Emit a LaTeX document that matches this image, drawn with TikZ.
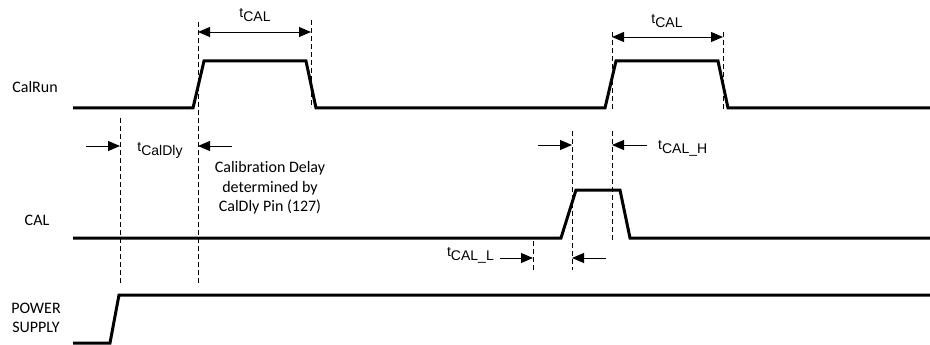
\documentclass[tikz,border=0pt]{standalone}
\usepackage{fontspec}
\setmainfont{Carlito}[Ligatures={NoCommon}]
\newfontfamily\arialfont{Liberation Sans}
\usetikzlibrary{arrows.meta}
\newcommand\tlab[1]{t\raisebox{-4pt}{#1}}

\begin{document}
\begin{tikzpicture}[x=1pt,y=-1pt,
  sig/.style={line width=3pt,line join=miter},
  guide/.style={line width=0.8pt,dash pattern=on 5pt off 3pt},
  dim/.style={-{Triangle[length=12pt,width=10pt]},line width=0.9pt},
  span/.style={{Triangle[length=12pt,width=10pt]}-{Triangle[length=12pt,width=10pt]},line width=0.9pt},
  lbl/.style={font=\fontsize{16}{19.5}\selectfont,align=center,inner sep=0pt},
  tm/.style={font=\arialfont\fontsize{14}{16}\selectfont,inner sep=0pt}]
\useasboundingbox (0,0) rectangle (930,345);
% signal names
\node[lbl] (nRun) at (35,87) {CalRun};
\node[lbl] (nCal) at (37,220) {CAL};
\node[lbl] (nPwr) at (36,318) {POWER\\SUPPLY};
% waveforms
\draw[sig] (73,108) -- (193,108) -- (204,61) -- (306,61) -- (316,108) -- (605,108)
  -- (616,61) -- (718,61) -- (728,108) -- (930,108);
\draw[sig] (73,238) -- (561,238) -- (576,190) -- (620,190) -- (630,238) -- (930,238);
\draw[sig] (73,343) -- (110,343) -- (119,295) -- (930,295);
% guide lines
\coordinate (G1a) at (120,118); \coordinate (G1b) at (120,283);
\coordinate (G2a) at (198,22);  \coordinate (G2b) at (198,283);
\coordinate (G3a) at (311,20);  \coordinate (G3b) at (311,108);
\coordinate (G4a) at (612,32);  \coordinate (G4b) at (612,110);
\coordinate (G5a) at (723,32);  \coordinate (G5b) at (723,110);
\coordinate (G6a) at (572,131); \coordinate (G6b) at (572,270);
\coordinate (G7a) at (612,131); \coordinate (G7b) at (612,241);
\coordinate (G8a) at (533,241); \coordinate (G8b) at (533,270);
\foreach \g in {1,...,8}
  \draw[guide] (G\g a) -- (G\g b);
% tCAL spans
\coordinate (P1) at (198,32); \coordinate (P2) at (311,32);
\coordinate (P3) at (612,37); \coordinate (P4) at (723,37);
\draw[span] (P1) -- (P2);
\draw[span] (P3) -- (P4);
\node[tm] (T1) at (255,15) {\tlab{CAL}};
\node[tm] (T2) at (667,21) {\tlab{CAL}};
% tCalDly
\coordinate (Q1) at (86,146);  \coordinate (Q2) at (120,146);
\coordinate (Q3) at (232,146); \coordinate (Q4) at (198,146);
\draw[dim] (Q1) -- (Q2);
\draw[dim] (Q3) -- (Q4);
\node[tm] (T3) at (160,150) {\tlab{CalDly}};
\node[lbl] (N1) at (270,188) {Calibration Delay\\determined by\\CalDly Pin (127)};
% tCAL_H
\coordinate (H1) at (538,145); \coordinate (H2) at (572,145);
\coordinate (H3) at (647,145); \coordinate (H4) at (612,145);
\draw[dim] (H1) -- (H2);
\draw[dim] (H3) -- (H4);
\node[tm,anchor=west] (T4) at (658,148) {\tlab{CAL\_H}};
% tCAL_L
\coordinate (L1) at (500,258); \coordinate (L2) at (533,258);
\coordinate (L3) at (606,258); \coordinate (L4) at (572,258);
\draw[dim] (L1) -- (L2);
\draw[dim] (L3) -- (L4);
\node[tm,anchor=east] (T5) at (494,255) {\tlab{CAL\_L}};
\end{tikzpicture}
\end{document}
